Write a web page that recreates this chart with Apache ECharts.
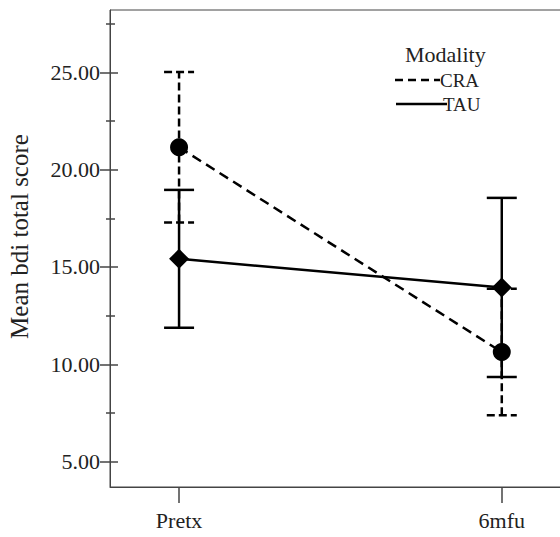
<!DOCTYPE html>
<html>
<head>
<meta charset="utf-8">
<script src="https://cdn.jsdelivr.net/npm/echarts@6/dist/echarts.min.js"></script>
<style>
  html, body { margin: 0; padding: 0; background: #fff; }
  #chart { width: 560px; height: 537px; }
</style>
</head>
<body>
<div id="chart"></div>
<script>
// data
const categories = ['Pretx', '6mfu']
const craMean = [21.15, 10.63]
const craLow = [17.28, 7.38]
const craHigh = [25.02, 13.88]
const tauMean = [15.42, 13.95]
const tauLow = [11.88, 9.35]
const tauHigh = [18.96, 18.55]
const majorTicks = [5, 10, 15, 20, 25]
const minorTicks = [7.5, 12.5, 17.5, 22.5, 27.5]

const font = 'Liberation Serif'
const axisColor = '#444'

function errData(low, high) {
  return categories.map(function (c, i) { return [i, low[i], high[i]] })
}

function errSeries(name, low, high, dash) {
  return {
    name: name,
    type: 'custom',
    silent: true,
    z: 1,
    data: errData(low, high),
    renderItem: function (params, api) {
      const x = api.value(0)
      const lo = api.coord([x, api.value(1)])
      const hi = api.coord([x, api.value(2)])
      const half = 15
      const style = { stroke: '#000', lineWidth: 2.5, lineDash: dash }
      return {
        type: 'group',
        children: [
          { type: 'line', shape: { x1: lo[0], y1: lo[1], x2: hi[0], y2: hi[1] }, style: style },
          { type: 'line', shape: { x1: lo[0] - half, y1: lo[1], x2: lo[0] + half, y2: lo[1] }, style: style },
          { type: 'line', shape: { x1: hi[0] - half, y1: hi[1], x2: hi[0] + half, y2: hi[1] }, style: style }
        ]
      }
    }
  }
}

function tickAxis(values, len, inside) {
  return {
    type: 'value', min: 3.7, max: 28.2, position: 'left',
    axisLine: { show: false, onZero: false },
    splitLine: { show: false },
    axisLabel: { show: false },
    axisTick: { show: true, inside: inside, length: len, customValues: values, lineStyle: { color: axisColor, width: 1.5 } }
  }
}

const chart = echarts.init(document.getElementById('chart'), null, { renderer: 'svg' })

chart.setOption({
  backgroundColor: '#fff',
  animation: false,
  grid: {
    left: 110, top: 10, bottom: 50, right: -6,
    outerBoundsMode: 'none', containLabel: false,
    show: true, borderColor: axisColor, borderWidth: 1
  },
  xAxis: {
    type: 'value', min: -0.214, max: 1.199,
    splitLine: { show: false },
    axisLine: { show: true, onZero: false, lineStyle: { color: axisColor } },
    axisTick: { show: true, length: 16, customValues: [0, 1], lineStyle: { color: axisColor, width: 1.5 } },
    axisLabel: {
      customValues: [0, 1],
      margin: 22,
      color: '#222',
      fontFamily: font,
      fontSize: 22,
      formatter: function (v) { return categories[Math.round(v)] }
    }
  },
  yAxis: [
    {
      type: 'value', min: 3.7, max: 28.2, position: 'left',
      name: 'Mean bdi total score',
      nameLocation: 'middle',
      nameGap: 78,
      nameTextStyle: { fontFamily: font, fontSize: 25, color: '#222', padding: [0, 0, 0, 24] },
      splitLine: { show: false },
      axisLine: { show: true, onZero: false, lineStyle: { color: axisColor } },
      axisTick: { show: true, length: 10, customValues: majorTicks, lineStyle: { color: axisColor, width: 1.5 } },
      axisLabel: {
        customValues: majorTicks,
        margin: 10,
        color: '#222',
        fontFamily: font,
        fontSize: 22,
        formatter: function (v) { return v.toFixed(2) }
      }
    },
    tickAxis(majorTicks, 8, true),
    tickAxis(minorTicks, 4, false),
    tickAxis(minorTicks, 5, true)
  ],
  series: [
    errSeries('CRA err', craLow, craHigh, [8, 4]),
    errSeries('TAU err', tauLow, tauHigh, null),
    {
      name: 'CRA',
      type: 'line',
      z: 3,
      data: craMean.map(function (v, i) { return [i, v] }),
      symbol: 'circle',
      symbolSize: 18,
      itemStyle: { color: '#000' },
      lineStyle: { color: '#000', width: 2.5, type: [10, 6] }
    },
    {
      name: 'TAU',
      type: 'line',
      z: 3,
      data: tauMean.map(function (v, i) { return [i, v] }),
      symbol: 'diamond',
      symbolSize: [20, 20],
      itemStyle: { color: '#000' },
      lineStyle: { color: '#000', width: 2.5 }
    }
  ],
  graphic: [
    { type: 'text', x: 405, y: 54, style: { text: 'Modality', font: '22px ' + font, fill: '#222', verticalAlign: 'middle' } },
    { type: 'line', shape: { x1: 395, y1: 80, x2: 440, y2: 80 }, style: { stroke: '#000', lineWidth: 2.5, lineDash: [8, 5] } },
    { type: 'text', x: 440, y: 80, style: { text: 'CRA', font: '19px ' + font, fill: '#222', verticalAlign: 'middle' } },
    { type: 'line', shape: { x1: 396, y1: 104, x2: 447, y2: 104 }, style: { stroke: '#000', lineWidth: 2.5 } },
    { type: 'text', x: 443, y: 104, style: { text: 'TAU', font: '19px ' + font, fill: '#222', verticalAlign: 'middle' } }
  ]
})
</script>
</body>
</html>
